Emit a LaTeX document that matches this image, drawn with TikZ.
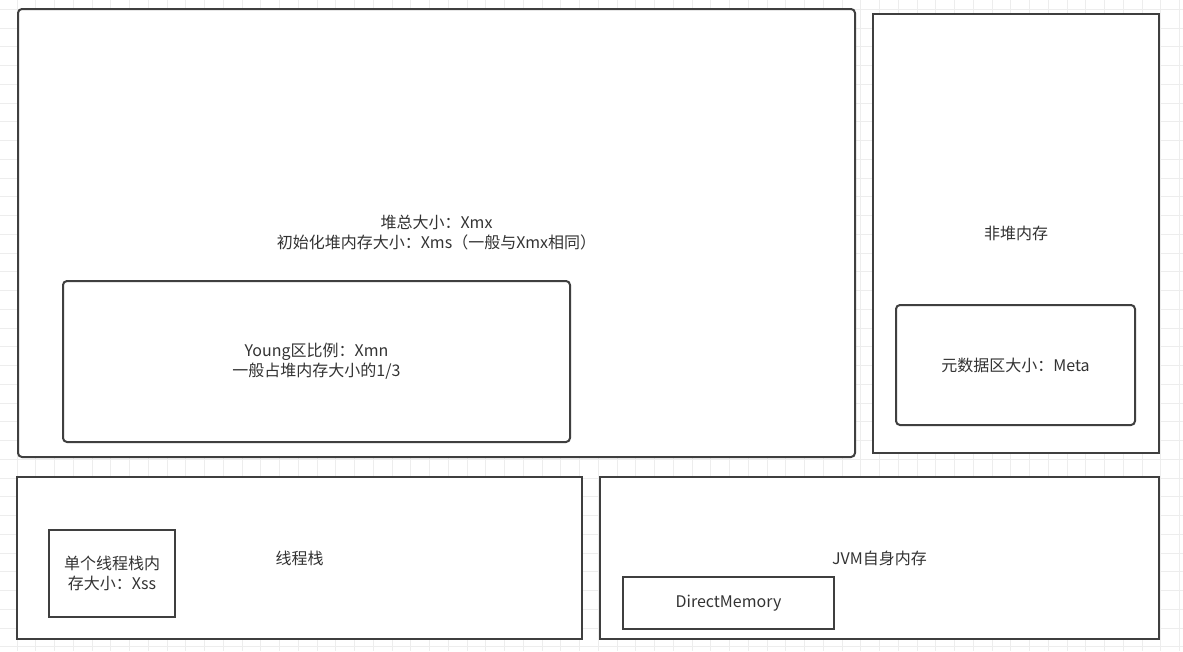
\documentclass[tikz,border=0pt]{standalone}
\usepackage{fontspec}
\setmainfont{Noto Sans CJK SC}
\usepackage{tikz}
\usetikzlibrary{positioning}
\usepackage{xcolor}
\definecolor{linecolor}{HTML}{3F3F3F}
\definecolor{textcolor}{HTML}{333333}
\definecolor{gridcolor}{HTML}{EDEDED}

\begin{document}
\begin{tikzpicture}[x=1pt, y=-1pt,
    every node/.style={font=\fontsize{16}{20}\selectfont, text=textcolor, align=center},
    box/.style={draw=linecolor, line width=2pt, fill=white, inner sep=2pt},
    rbox/.style={box, rounded corners=4pt}]
    \useasboundingbox (0,0) rectangle (1183,651);

    % Grid
    \fill[white] (0,0) rectangle (1183,651);
    \foreach \i in {0,...,62} {
        \draw[gridcolor, line width=0.8pt] (17+\i*18.75, 0) -- (17+\i*18.75, 651);
    }
    \foreach \j in {0,...,34} {
        \draw[gridcolor, line width=0.8pt] (0, 9.3+\j*18.75) -- (1183, 9.3+\j*18.75);
    }

    % Heap
    \node[rbox, minimum width=837pt, minimum height=448pt] (heap) at (436.5,233)
        {堆总大小：Xmx\\初始化堆内存大小：Xms（一般与Xmx相同）};
    \node[rbox, minimum width=507pt, minimum height=161pt] (young) at (316.5,361.5)
        {Young区比例：Xmn\\一般占堆内存大小的1/3};

    % Non-heap
    \node[box, minimum width=286pt, minimum height=439pt] (nonheap) at (1016,233.5) {非堆内存};
    \node[rbox, minimum width=239pt, minimum height=120pt] (meta) at (1015.5,365) {元数据区大小：Meta};

    % Thread stack
    \node[box, minimum width=565pt, minimum height=162pt] (stack) at (299.5,558) {线程栈};
    \node[box, minimum width=126pt, minimum height=87pt] (xss) at (112,573.5)
        {单个线程栈内\\存大小：Xss};

    % JVM itself
    \node[box, minimum width=559pt, minimum height=162pt] (jvm) at (879.5,558) {JVM自身内存};
    \node[box, minimum width=211pt, minimum height=52pt] (direct) at (728.5,603) {DirectMemory};
\end{tikzpicture}
\end{document}
